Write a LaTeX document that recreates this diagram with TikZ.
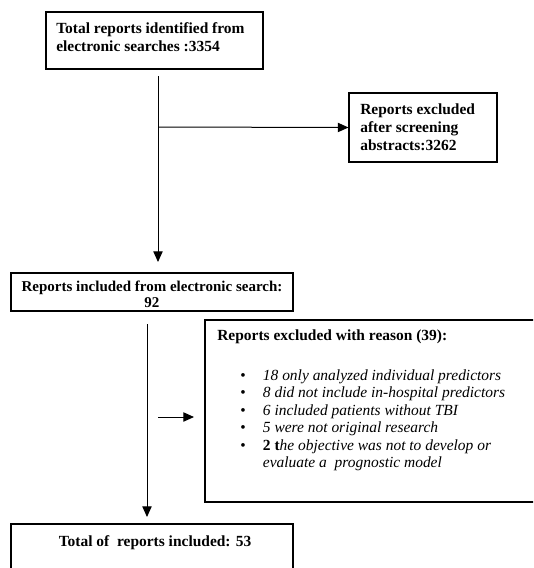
\documentclass[tikz,border=0pt]{standalone}
\usepackage{fontspec}
\setmainfont{Liberation Serif}
\usetikzlibrary{fit,arrows.meta}

\tikzset{
  box/.style={draw, inner sep=0pt, line width=0.8pt},
  txt/.style={inner sep=0pt, font=\fontsize{11.6}{13.5}\selectfont\bfseries},
  arr/.style={-{Triangle[length=8pt,width=7pt]}, line width=0.75pt}
}

\begin{document}
\begin{tikzpicture}[x=0.75pt,y=-0.75pt]
\useasboundingbox (0,0) rectangle (533,568);
\clip (0,0) rectangle (533,568);

% boxes
\node [box, fit={(46,12) (263,69)}] (ident) {};
\node [box, fit={(349,93) (497,162)}] (screen) {};
\node [box, fit={(11,273) (293,311)}] (incl) {};
\node [box, fit={(205,320) (545,502)}] (reason) {};
\node [box, fit={(11,524) (293,590)}] (total) {};

% texts
\node [txt, anchor=north west, align=left] (identtxt) at (56,22)
  {Total reports identified from\\electronic searches :3354};
\node [txt, anchor=north west, align=left] (screentxt) at (360,103)
  {Reports excluded\\after screening\\abstracts:3262};
\node [txt, anchor=north, align=center, font=\fontsize{11.25}{12}\selectfont\bfseries] (incltxt) at (152,281)
  {Reports included from electronic search:\\92};
\node [txt, anchor=north west, align=left] (reasontxt) at (217,329)
  {Reports excluded with reason (39):};
\node [txt, anchor=north west, font=\fontsize{11.6}{13.1}\selectfont] (bullets) at (240,368)
  {\begin{tabular}{@{}p{17pt}@{}l@{}}
   \textbullet & \textit{18 only analyzed individual predictors}\\
   \textbullet & \textit{8 did not include in-hospital predictors}\\
   \textbullet & \textit{6 included patients without TBI}\\
   \textbullet & \textit{5 were not original research}\\
   \textbullet & \textbf{2 t}\textit{he objective was not to develop or}\\
               & \textit{evaluate a~ prognostic model}
   \end{tabular}};
\node [txt, anchor=north] (totaltxt) at (155,535)
  {Total of~ reports included: 53};

% connectors
\coordinate (top1) at (158,76);
\coordinate (split) at (158,127);
\coordinate (tip1) at (158,262);
\coordinate (top2) at (147,324);
\coordinate (tip2) at (147,517);
\coordinate (side1) at (158,417);
\coordinate (side2) at (194,417);

\draw (top1) -- (split);
\draw [arr] (split) -- (tip1);
\draw [arr] (split) -- (screen.west);
\draw [arr] (top2) -- (tip2);
\draw [arr] (side1) -- (side2);
%\draw [arr] (incl.south) -- (total.north);
\end{tikzpicture}
\end{document}
